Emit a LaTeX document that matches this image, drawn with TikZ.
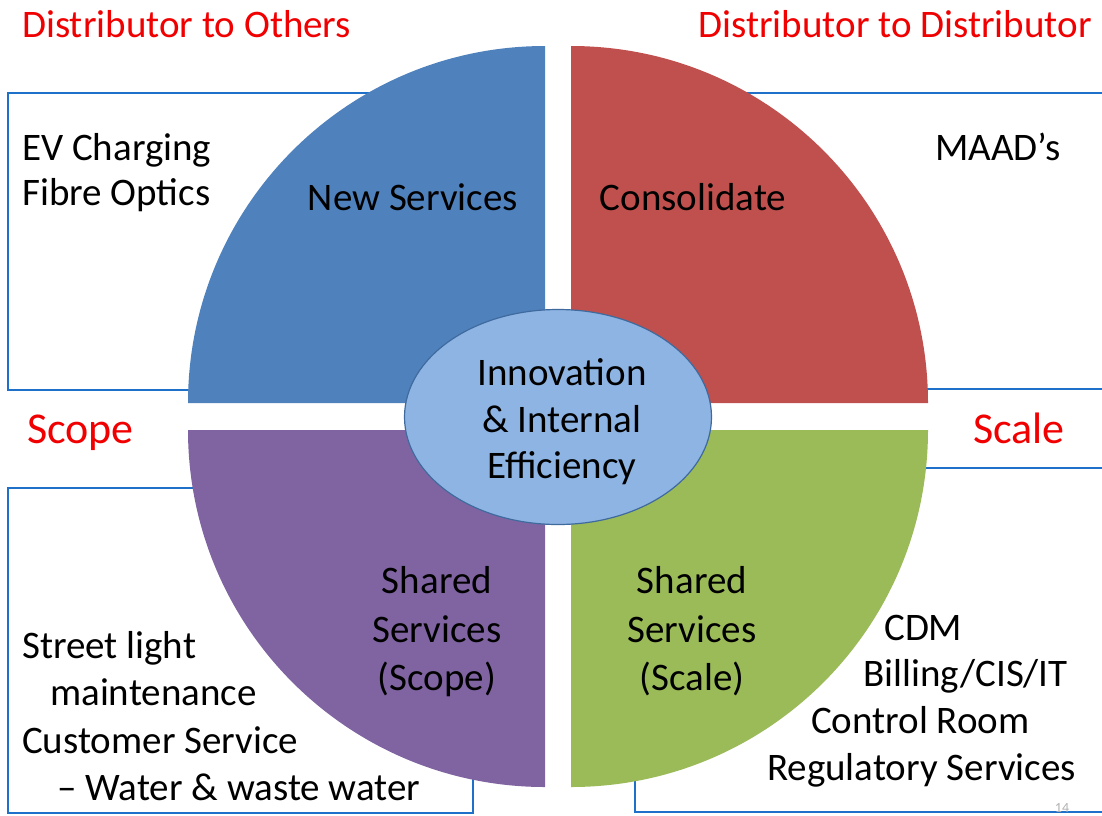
\documentclass[tikz,border=0pt]{standalone}
\usepackage{fontspec}
\setmainfont{Carlito}
\usetikzlibrary{shapes.geometric}
\definecolor{qblue}{HTML}{4F81BD}
\definecolor{qred}{HTML}{C0504D}
\definecolor{qpurple}{HTML}{8064A2}
\definecolor{qgreen}{HTML}{9BBB59}
\definecolor{coreblue}{HTML}{8DB4E2}
\definecolor{coreedge}{HTML}{3F6A9E}
\definecolor{boxline}{RGB}{30,112,200}
\definecolor{redtxt}{RGB}{240,0,0}
\tikzset{
  txt/.style={inner sep=0pt, font=\fontsize{39}{46}\selectfont, text=black},
  redlbl/.style={inner sep=0pt, font=\fontsize{39}{46}\selectfont, text=redtxt},
  bigred/.style={inner sep=0pt, font=\fontsize{44}{50}\selectfont, text=redtxt},
  outline/.style={draw=boxline, line width=2.5pt},
}
\begin{document}
\begin{tikzpicture}[x=1pt,y=-1pt]
\useasboundingbox (0,0) rectangle (1102,815);
\clip (0,0) rectangle (1102,815);
% boxes
\draw[outline] (8,93) rectangle (500,390);
\draw[outline] (640,93) rectangle (1115,389);
\draw[outline] (8,488) rectangle (473,813);
\draw[outline] (635,468) rectangle (1115,812);
% quadrants (y axis points down, so angles run clockwise on screen)
\fill[qblue] (545,403) -- (188,403) arc[start angle=180, end angle=270, radius=357] -- cycle;
\fill[qred] (571,403) -- (571,46) arc[start angle=270, end angle=360, radius=357] -- cycle;
\fill[qpurple] (545,430) -- (545,787) arc[start angle=90, end angle=180, radius=357] -- cycle;
\fill[qgreen] (571,430) -- (928,430) arc[start angle=0, end angle=90, radius=357] -- cycle;
% core ellipse
\node[ellipse, fill=coreblue, draw=coreedge, line width=1.2pt, minimum width=307pt, minimum height=215pt, inner sep=0pt] (core) at (558,417) {};
% red labels
\node[redlbl, anchor=base west] (dto) at (22,37) {Distributor to Others};
\node[redlbl, anchor=base east] (dtd) at (1092,37) {Distributor to Distributor};
\node[bigred, anchor=base west] (scope) at (27,443) {Scope};
\node[bigred, anchor=base east] (scale) at (1065,443) {Scale};
% top left
\node[txt, anchor=base west] (ev) at (22,160) {EV Charging};
\node[txt, anchor=base west] (fo) at (22,205) {Fibre Optics};
\node[txt, anchor=base] (ns) at (413,210) {New Services};
\node[txt, anchor=base] (cons) at (693,210) {Consolidate};
\node[txt, anchor=base west] (maad) at (935,160) {MAAD’s};
% core text
\node[txt, anchor=base] (in1) at (562,385) {Innovation};
\node[txt, anchor=base] (in2) at (562,432) {\& Internal};
\node[txt, anchor=base] (in3) at (562,478) {Efficiency};
% shared services
\node[txt, anchor=base] (ss1) at (437,593) {Shared};
\node[txt, anchor=base] (ss2) at (437,642) {Services};
\node[txt, anchor=base] (ss3) at (437,690) {(Scope)};
\node[txt, anchor=base] (sc1) at (692,593) {Shared};
\node[txt, anchor=base] (sc2) at (692,642) {Services};
\node[txt, anchor=base] (sc3) at (692,690) {(Scale)};
% bottom left
\node[txt, anchor=base west] (sl) at (22,658) {Street light};
\node[txt, anchor=base west] (mt) at (50,705) {maintenance};
\node[txt, anchor=base west] (cs) at (22,753) {Customer Service};
\node[txt, anchor=base west] (ww) at (57,800) {– Water \& waste water};
% bottom right
\node[txt, anchor=base west] (cdm) at (884,640) {CDM};
\node[txt, anchor=base west] (bill) at (863,686) {Billing/CIS/IT};
\node[txt, anchor=base west] (cr) at (811,733) {Control Room};
\node[txt, anchor=base west] (reg) at (767,780) {Regulatory Services};
% page number
\node[inner sep=0pt, anchor=base, font=\fontsize{14}{16}\selectfont, text=black!30] (pg) at (1062,812) {14};
\end{tikzpicture}
\end{document}
